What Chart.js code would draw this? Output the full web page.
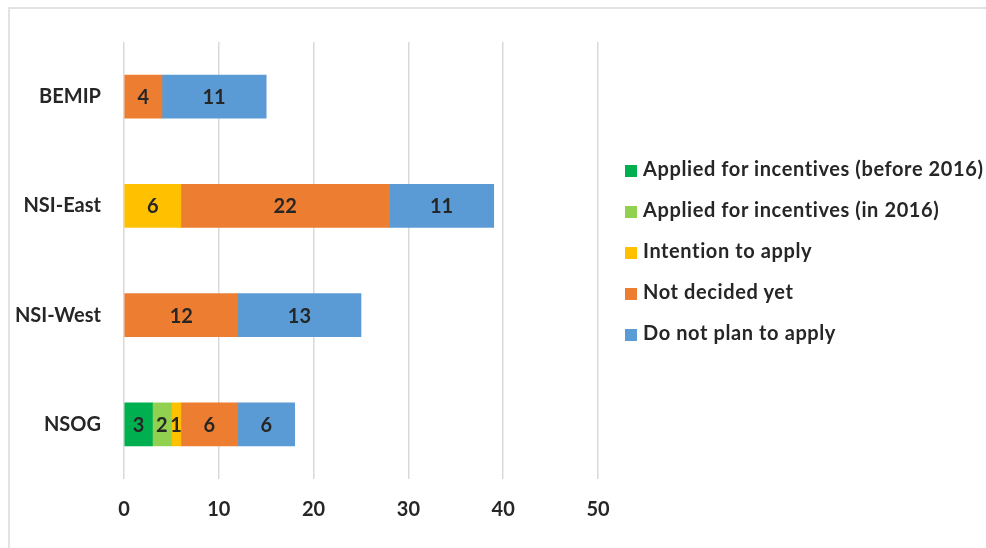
<!DOCTYPE html>
<html>
<head>
<meta charset="utf-8">
<script src="https://cdn.jsdelivr.net/npm/chart.js@4/dist/chart.umd.min.js"></script>
<style>
  html, body { margin: 0; padding: 0; background: #fff; overflow: hidden; }
  #wrap { position: relative; width: 986px; height: 548px; }
  #frame { position: absolute; left: 8px; top: 7px; right: -10px; bottom: -10px;
           border-left: 2px solid #e3e3e3; border-top: 2px solid #e3e3e3; }
  #box { position: absolute; left: 0; top: 0; width: 986px; height: 548px; }
  #legend { position: absolute; left: 625px; top: 156px; margin: 0; padding: 0; list-style: none;
            font: bold 20px Lato, sans-serif; letter-spacing: 0.6px; color: #262626; white-space: nowrap; }
  #legend li { height: 41px; line-height: 24px; }
  #legend span { display: inline-block; width: 12px; height: 12px; margin-right: 6px; vertical-align: -1px; }
</style>
</head>
<body>
<div id="wrap">
  <div id="frame"></div>
  <div id="box"><canvas id="myChart"></canvas></div>
  <ul id="legend"></ul>
</div>
<script>
// 지역(카테고리)과 응답 항목별 값
var regions = ['BEMIP', 'NSI-East', 'NSI-West', 'NSOG'];
var seriesNames = ['Applied for incentives (before 2016)', 'Applied for incentives (in 2016)',
                   'Intention to apply', 'Not decided yet', 'Do not plan to apply'];
var seriesColors = ['#00B050', '#92D050', '#FFC000', '#ED7D31', '#5B9BD5'];
var appliedBefore = [0, 0, 0, 3];
var appliedIn2016 = [0, 0, 0, 2];
var intention = [0, 6, 0, 1];
var notDecided = [4, 22, 12, 6];
var notPlan = [11, 11, 13, 6];
var xTicks = [0, 10, 20, 30, 40, 50];

var seriesValues = [appliedBefore, appliedIn2016, intention, notDecided, notPlan];
var font = 'Lato, sans-serif';

// 막대 가운데에 값 표시 (빈 값은 생략)
var valueLabels = {
    id: 'valueLabels',
    afterDatasetsDraw: function (chart) {
        var ctx = chart.ctx;
        ctx.save();
        ctx.font = 'bold 20px ' + font;
        ctx.fillStyle = '#262626';
        ctx.textAlign = 'center';
        ctx.textBaseline = 'middle';
        chart.data.datasets.forEach(function (ds, i) {
            chart.getDatasetMeta(i).data.forEach(function (bar, j) {
                var v = ds.data[j];
                if (!v) return;
                var p = bar.getCenterPoint();
                ctx.fillText(String(v), p.x, p.y + 1);
            });
        });
        ctx.restore();
    }
};

var chartArea = document.getElementById('myChart').getContext('2d');
var myChart = new Chart(chartArea, {
    type: 'bar',
    data: {
        labels: regions,
        datasets: seriesNames.map(function (name, i) {
            return {
                label: name,
                // 0은 막대를 그리지 않도록 null로
                data: seriesValues[i].map(function (v) { return v || null; }),
                backgroundColor: seriesColors[i],
                borderWidth: 0,
                barThickness: 43
            };
        })
    },
    options: {
        indexAxis: 'y',
        responsive: true,
        maintainAspectRatio: false,
        animation: false,
        layout: { padding: { left: 0, top: 42, right: 388, bottom: 0 } },
        plugins: { legend: { display: false }, tooltip: { enabled: false } },
        scales: {
            x: {
                stacked: true,
                min: 0,
                max: 50,
                afterBuildTicks: function (scale) {
                    scale.ticks = xTicks.map(function (v) { return { value: v }; });
                },
                afterFit: function (scale) { scale.height = 69; },
                grid: { color: '#d9d9d9', lineWidth: 1.5, drawTicks: false },
                border: { display: false },
                ticks: { padding: 19, color: '#262626', font: { family: font, size: 20, weight: 'bold' } }
            },
            y: {
                stacked: true,
                afterFit: function (scale) { scale.width = 124; },
                grid: { display: false, drawTicks: false },
                border: { display: false },
                ticks: { padding: 23, color: '#262626', font: { family: font, size: 20, weight: 'bold' } }
            }
        }
    },
    plugins: [valueLabels]
});

// 범례는 HTML로 그린다
var legend = document.getElementById('legend');
seriesNames.forEach(function (name, i) {
    var li = document.createElement('li');
    li.innerHTML = '<span style="background:' + seriesColors[i] + '"></span>' + name;
    legend.appendChild(li);
});
</script>
</body>
</html>
